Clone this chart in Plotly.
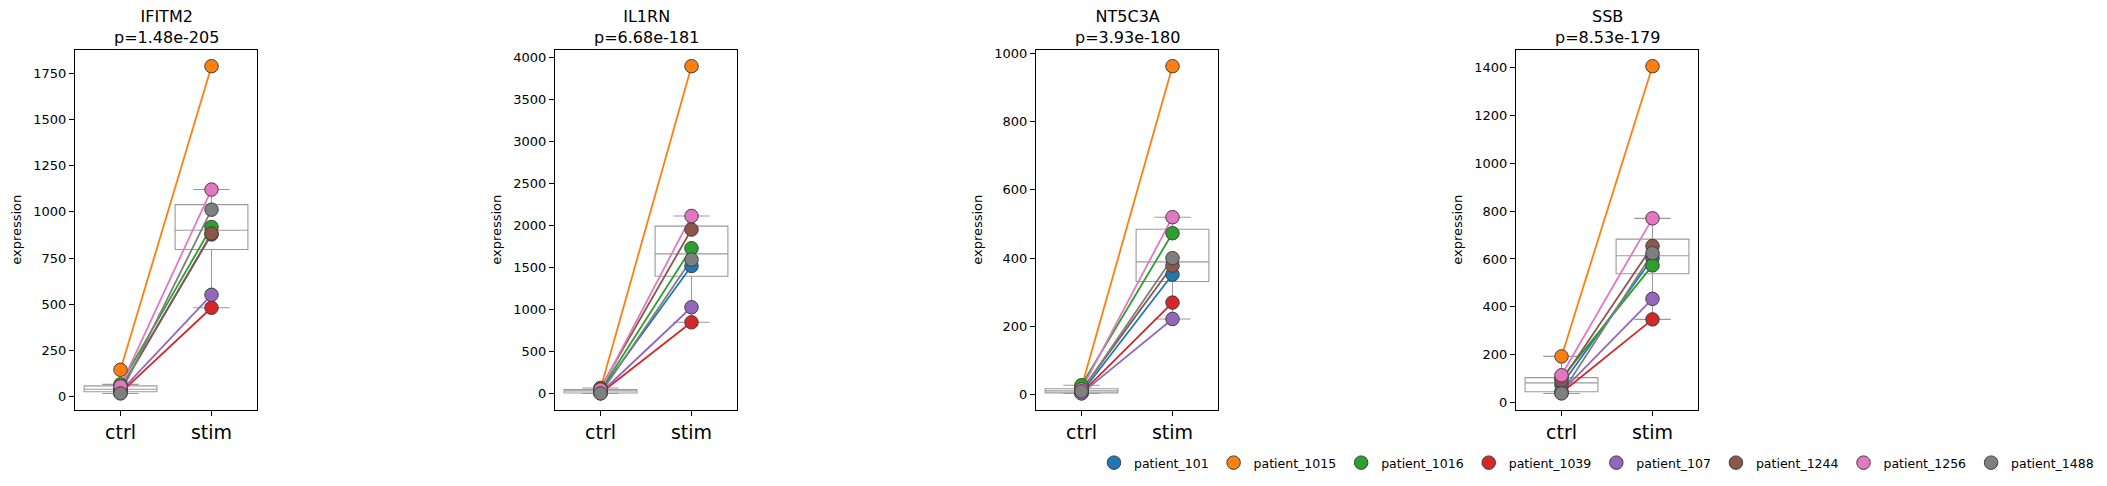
import numpy as np
import plotly.graph_objects as go

# data
genes = ["IFITM2", "IL1RN", "NT5C3A", "SSB"]
pvals = ["1.48e-205", "6.68e-181", "3.93e-180", "8.53e-179"]
conditions = ["ctrl", "stim"]
patients = ["patient_101", "patient_1015", "patient_1016", "patient_1039",
            "patient_107", "patient_1244", "patient_1256", "patient_1488"]

ifitm2_ctrl = [42, 145, 66, 20, 28, 38, 55, 17]
ifitm2_stim = [878, 1789, 918, 481, 551, 883, 1121, 1012]
il1rn_ctrl = [30, 60, 40, 8, 10, 70, 50, 5]
il1rn_stim = [1519, 3893, 1730, 850, 1029, 1952, 2113, 1596]
nt5c3a_ctrl = [6, 22, 28, 5, 4, 13, 16, 10]
nt5c3a_stim = [352, 962, 473, 270, 222, 378, 520, 400]
ssb_ctrl = [72, 192, 100, 40, 45, 90, 113, 37]
ssb_stim = [603, 1407, 573, 347, 433, 654, 770, 624]

ytick_steps = [250, 500, 200, 200]

ctrl_vals = [ifitm2_ctrl, il1rn_ctrl, nt5c3a_ctrl, ssb_ctrl]
stim_vals = [ifitm2_stim, il1rn_stim, nt5c3a_stim, ssb_stim]

COLORS = ['#1f77b4', '#ff7f0e', '#2ca02c', '#d62728',
          '#9467bd', '#8c564b', '#e377c2', '#7f7f7f']
FONT = "DejaVu Sans"
BOX_LINE = '#9a9a9a'
EDGE = '#404040'

# the page body has an 8px margin, so the figure is shifted by that much
PAD = 8
W, H = 2107 - 2 * PAD, 486 - 2 * PAD

# axes placement in page pixels (left edges), all same width/height
lefts = [75, 555, 1036, 1516]
ax_w = 182
top, bottom = 47, 418


def box_stats(vals):
    v = np.sort(np.array(vals, dtype=float))
    q1, med, q3 = np.percentile(v, [25, 50, 75])
    iqr = q3 - q1
    lo = v[v >= q1 - 1.5 * iqr].min()
    hi = v[v <= q3 + 1.5 * iqr].max()
    return q1, med, q3, lo, hi


fig = go.Figure()
layout = {}
annotations = []

for i, gene in enumerate(genes):
    n = "" if i == 0 else str(i + 1)
    xa, ya = "x" + n, "y" + n
    ctrl, stim = ctrl_vals[i], stim_vals[i]

    # boxes
    s_c = box_stats(ctrl)
    s_s = box_stats(stim)
    fig.add_trace(go.Box(
        x=conditions, q1=[s_c[0], s_s[0]], median=[s_c[1], s_s[1]],
        q3=[s_c[2], s_s[2]], lowerfence=[s_c[3], s_s[3]],
        upperfence=[s_c[4], s_s[4]], width=0.8, whiskerwidth=0.5,
        fillcolor='white', line=dict(color=BOX_LINE, width=1.1),
        boxpoints=False, showlegend=False, hoverinfo='skip',
        xaxis=xa, yaxis=ya))

    # paired lines
    for j, p in enumerate(patients):
        fig.add_trace(go.Scatter(
            x=conditions, y=[ctrl[j], stim[j]], mode='lines',
            line=dict(color=COLORS[j], width=1.8), showlegend=False,
            hoverinfo='skip', xaxis=xa, yaxis=ya))

    # points on top
    for j, p in enumerate(patients):
        fig.add_trace(go.Scatter(
            x=conditions, y=[ctrl[j], stim[j]], mode='markers', name=p,
            marker=dict(size=13.5, color=COLORS[j], line=dict(color=EDGE, width=1)),
            legendgroup=p, showlegend=(i == 0), xaxis=xa, yaxis=ya))

    allv = ctrl + stim
    span = max(allv) - min(allv)
    yr = [min(allv) - 0.05 * span, max(allv) + 0.05 * span]
    x0 = (lefts[i] - PAD) / W
    x1 = (lefts[i] + ax_w - PAD) / W
    y0 = 1 - (bottom - PAD) / H
    y1 = 1 - (top - PAD) / H

    axis_common = dict(showline=True, linecolor='black', linewidth=1, mirror=True,
                       ticks='outside', ticklen=5, tickcolor='black', tickwidth=1,
                       showgrid=False, zeroline=False)
    layout["xaxis" + n] = dict(domain=[x0, x1], anchor=ya, type='category',
                               categoryorder='array', categoryarray=conditions,
                               range=[-0.5, 1.5],
                               tickfont=dict(size=19, color='black', family=FONT),
                               **axis_common)
    layout["yaxis" + n] = dict(domain=[y0, y1], anchor=xa, range=yr,
                               dtick=ytick_steps[i], tick0=0,
                               tickfont=dict(size=13, color='black', family=FONT),
                               **axis_common)

    annotations.append(dict(
        x=(x0 + x1) / 2, y=y1, xref='paper', yref='paper', xanchor='center',
        yanchor='bottom', yshift=1, showarrow=False,
        text=f"{gene}<br>p={pvals[i]}",
        font=dict(size=16, color='black', family=FONT)))
    annotations.append(dict(
        x=x0, y=(y0 + y1) / 2, xref='paper', yref='paper', xanchor='center',
        yanchor='middle', xshift=-58, textangle=-90, showarrow=False,
        text="expression", font=dict(size=13, color='black', family=FONT)))

fig.update_layout(
    **layout,
    annotations=annotations,
    width=W, height=H,
    margin=dict(l=0, r=0, t=0, b=0),
    paper_bgcolor='white', plot_bgcolor='white',
    font=dict(family=FONT, color='black'),
    showlegend=True,
    legend=dict(orientation='h', x=1, xanchor='right', y=1 - (473 - PAD) / H,
                yanchor='middle', font=dict(size=12.5, family=FONT, color='black'),
                bgcolor='rgba(0,0,0,0)', itemclick=False),
)

fig.write_html("out.html")
